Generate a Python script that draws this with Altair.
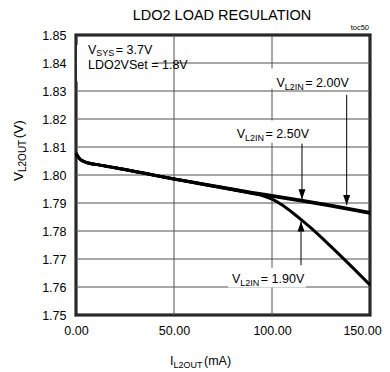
import altair as alt
import pandas as pd

FONT = "Liberation Sans"
NB = "\u00a0"

# ---- data ----
I_MAIN = [0, 1, 2, 3.5, 5.5, 10, 20, 35, 50, 65, 80, 90, 100, 115, 130, 150]
V_250 = [1.8078, 1.8066, 1.8057, 1.8050, 1.8044, 1.8038, 1.8026, 1.8006, 1.7986,
         1.7968, 1.7950, 1.7938, 1.7927, 1.7910, 1.7892, 1.7866]
V_200 = [1.8078, 1.8066, 1.8057, 1.8050, 1.8044, 1.8038, 1.8026, 1.8006, 1.7986,
         1.7966, 1.7947, 1.7935, 1.7924, 1.7907, 1.7889, 1.7863]
I_190 = [0, 1, 2, 3.5, 5.5, 10, 20, 35, 50, 65, 80, 90, 95, 100, 105, 110, 115,
         120, 130, 140, 150]
V_190 = [1.8078, 1.8066, 1.8057, 1.8050, 1.8044, 1.8038, 1.8026, 1.8006, 1.7986,
         1.7967, 1.7948, 1.7934, 1.7927, 1.7914, 1.7894, 1.7868, 1.7840,
         1.7810, 1.7745, 1.7677, 1.7607]

X_TICKS = [0, 50, 100, 150]
Y_TICKS = [1.75, 1.76, 1.77, 1.78, 1.79, 1.80, 1.81, 1.82, 1.83, 1.84, 1.85]

# arrows (data coordinates)
ARROW_X = [138.1, 115.3, 114.8]
ARROW_FROM = [1.8286, 1.8112, 1.7678]
ARROW_TO = [1.7893, 1.7913, 1.7834]
ARROW_DIR = ["down", "down", "up"]

# white label backgrounds (data coordinates)
BOX_X1 = [0.5, 98.0, 79.6, 77.6]
BOX_X2 = [39.6, 140.0, 122.4, 117.3]
BOX_Y1 = [1.8334, 1.8308, 1.8115, 1.7598]
BOX_Y2 = [1.8464, 1.8380, 1.8195, 1.7669]

rows = []
for i, v in zip(I_MAIN, V_250):
    rows.append({"x": i, "y": v, "s": "2.50V"})
for i, v in zip(I_MAIN, V_200):
    rows.append({"x": i, "y": v, "s": "2.00V"})
for i, v in zip(I_190, V_190):
    rows.append({"x": i, "y": v, "s": "1.90V"})
curves = pd.DataFrame(rows)

GRID = "#505050"
xs = alt.Scale(domain=[0, 150], nice=False, zero=False)
ys = alt.Scale(domain=[1.75, 1.85], nice=False, zero=False)
xaxis = alt.Axis(values=X_TICKS, format=".2f", grid=False,
                 domain=False, ticks=False, labelPadding=9, labelFont=FONT,
                 labelFontSize=12.5, labelColor="black", title=None, labelFlush=False,
                 labelOffset={"condition": {"test": "datum.value == 150", "value": -8}, "value": 0})
yaxis = alt.Axis(values=Y_TICKS, format=".2f", grid=False,
                 domain=False, ticks=False, labelPadding=10, labelFont=FONT,
                 labelFontSize=12.5, labelColor="black", title=None, labelFlush=False)
X = alt.X("x:Q", scale=xs, axis=xaxis)
Y = alt.Y("y:Q", scale=ys, axis=yaxis)

vgrid = alt.Chart(pd.DataFrame({"x": X_TICKS})).mark_rule(color=GRID, strokeWidth=1).encode(x=X)
hgrid = alt.Chart(pd.DataFrame({"y": Y_TICKS})).mark_rule(color=GRID, strokeWidth=1).encode(y=Y)

boxes = alt.Chart(pd.DataFrame({"x": BOX_X1, "xe": BOX_X2, "y": BOX_Y1, "ye": BOX_Y2})).mark_rect(
    fill="white", opacity=1, strokeWidth=0).encode(x=X, x2=alt.X2("xe"), y=Y, y2=alt.Y2("ye"))

lines = alt.Chart(curves).mark_line(color="black", strokeWidth=3, interpolate="monotone").encode(
    x=X, y=Y, detail="s:N")

adf = pd.DataFrame({"x": ARROW_X, "y": ARROW_FROM, "ye": ARROW_TO, "d": ARROW_DIR})
rules = alt.Chart(adf).mark_rule(color="black", strokeWidth=1).encode(x=X, y=Y, y2=alt.Y2("ye"))
hdf = pd.DataFrame({"x": ARROW_X, "y": ARROW_TO, "d": ARROW_DIR})
heads = alt.Chart(hdf).mark_point(filled=True, color="black", opacity=1, size=400, strokeWidth=0).encode(
    x=X, y=Y,
    shape=alt.Shape("d:N", scale=alt.Scale(domain=["down", "up"],
                                           range=["M0,0L-0.35,-1L0.35,-1Z", "M0,0L-0.35,1L0.35,1Z"]),
                    legend=None))

W = {"L": .556, "2": .556, "I": .278, "N": .722, "S": .667, "Y": .667, "O": .778,
     "U": .722, "T": .611}


def sub_w(s, size=9):
    return sum(W.get(c, .6) for c in s) * size


def rich(x, y, pieces, angle=0, pixel=False):
    out = []
    for text, dx, dy, size in pieces:
        df = pd.DataFrame({"x": [x], "y": [y], "t": [text]})
        kw = dict(align="left", baseline="alphabetic", dx=dx, dy=dy, fontSize=size,
                  font=FONT, color="black")
        if angle:
            kw["angle"] = angle
        m = alt.Chart(df).mark_text(**kw)
        if pixel:
            out.append(m.encode(x=alt.value(x), y=alt.value(y), text="t:N"))
        else:
            out.append(m.encode(x=X, y=Y, text="t:N"))
    return out


def vlabel(x, y, sub, rest, sdy=3):
    return rich(x, y, [("V", 0, 0, 12.5), (sub, 8.3, sdy, 9),
                       (rest, 9.8 + sub_w(sub), 0, 12.5)])


texts = []
texts += vlabel(102.3, 1.8316, "L2IN", NB + "= 2.00V")
texts += vlabel(82.0, 1.8132, "L2IN", NB + "= 2.50V")
texts += vlabel(79.6, 1.7614, "L2IN", NB + "= 1.90V")
texts += vlabel(6.1, 1.8431, "SYS", NB + "= 3.7V", sdy=2)
texts += rich(6.1, 1.8379, [("LDO2VSet = 1.8V", 0, 0, 12.5)])

# titles (pixel positions relative to plot area)
texts += [alt.Chart(pd.DataFrame({"t": ["LDO2 LOAD REGULATION"]})).mark_text(
    align="center", baseline="alphabetic", fontSize=14.5, font=FONT, color="black").encode(
    x=alt.value(146), y=alt.value(-15), text="t:N")]
texts += [alt.Chart(pd.DataFrame({"t": ["toc50"]})).mark_text(
    align="right", baseline="alphabetic", fontSize=7.5, font=FONT, color="black").encode(
    x=alt.value(293), y=alt.value(-5), text="t:N")]
texts += rich(94, 330, [("I", 0, 0, 12.5), ("L2OUT", 3.6, 3, 9),
                        (NB + "(mA)", 5.0 + sub_w("L2OUT"), 0, 12.5)], pixel=True)
texts += rich(-53, 146, [("V", 0, 0, 13.5), ("L2OUT", 9.0, 3, 10),
                         (NB + "(V)", 10.5 + sub_w("L2OUT", 10), 0, 13.5)], angle=270, pixel=True)

chart = alt.layer(vgrid, hgrid, boxes, lines, rules, heads, *texts).properties(
    width=294, height=280,
    autosize=alt.AutoSizeParams(type="none"),
    padding={"left": 68, "top": 27, "right": 12, "bottom": 57},
).configure_view(stroke="black", strokeWidth=3).configure_axis(labelFont=FONT)

chart.save("out.html", embed_options={"renderer": "svg", "actions": False})
